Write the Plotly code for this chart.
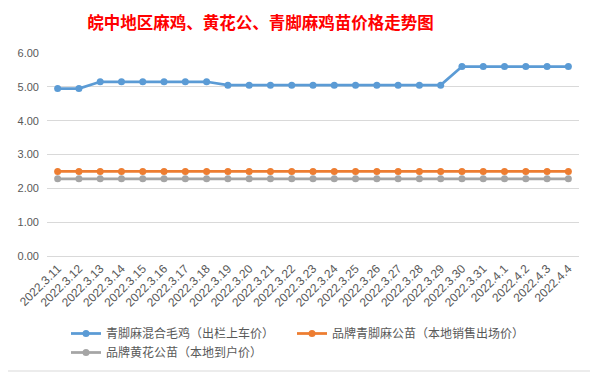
import plotly.graph_objects as go

categories = ["2022.3.11", "2022.3.12", "2022.3.13", "2022.3.14", "2022.3.15", "2022.3.16",
              "2022.3.17", "2022.3.18", "2022.3.19", "2022.3.20", "2022.3.21", "2022.3.22",
              "2022.3.23", "2022.3.24", "2022.3.25", "2022.3.26", "2022.3.27", "2022.3.28",
              "2022.3.29", "2022.3.30", "2022.3.31", "2022.4.1", "2022.4.2", "2022.4.3", "2022.4.4"]

blue_name = "青脚麻混合毛鸡（出栏上车价）"
blue_values = [4.95, 4.95, 5.15, 5.15, 5.15, 5.15, 5.15, 5.15, 5.05, 5.05, 5.05, 5.05, 5.05,
               5.05, 5.05, 5.05, 5.05, 5.05, 5.05, 5.60, 5.60, 5.60, 5.60, 5.60, 5.60]

orange_name = "品牌青脚麻公苗（本地销售出场价）"
orange_values = [2.50] * 25

gray_name = "品牌黄花公苗（本地到户价）"
gray_values = [2.28] * 25

y_ticks = [0, 1, 2, 3, 4, 5, 6]

# page offset of the plot div (default body margin)
OFF = 8
W, H = 598, 374
# desired plot area in page pixels
PL, PR, PT, PB = 47, 579, 53, 256
ML, MT = PL - OFF, PT - OFF
MR = W - (PR - OFF)
MB = H - (PB - OFF)
PW, PH = W - ML - MR, H - MT - MB


def px_x(p):
    return (p - OFF - ML) / PW


def px_y(p):
    return (H - MB - (p - OFF)) / PH


fig = go.Figure()
for name, vals, col in [(blue_name, blue_values, "#5B9BD5"),
                        (orange_name, orange_values, "#ED7D31"),
                        (gray_name, gray_values, "#A5A5A5")]:
    fig.add_trace(go.Scatter(
        x=categories, y=vals, name=name, mode="lines+markers",
        line=dict(color=col, width=2.75),
        marker=dict(color=col, size=7, symbol="circle"),
        cliponaxis=False,
    ))

fig.add_shape(type="rect", xref="paper", yref="paper",
              x0=px_x(3), x1=px_x(594), y0=px_y(371), y1=px_y(2),
              line=dict(color="#D9D9D9", width=1), fillcolor="rgba(0,0,0,0)", layer="below")

fig.update_layout(
    width=W, height=H,
    margin=dict(l=ML, r=MR, t=MT, b=MB, autoexpand=False),
    paper_bgcolor="white", plot_bgcolor="white",
    title=dict(text="<b>皖中地区麻鸡、黄花公、青脚麻鸡苗价格走势图</b>",
               font=dict(family="Noto Sans CJK SC", size=16.5, color="#FF0000"),
               xref="container", x=(260.5 - OFF) / W, xanchor="center",
               yref="container", y=1 - (23 - OFF) / H, yanchor="middle"),
    font=dict(family="Noto Sans CJK SC", color="#595959"),
    showlegend=True,
    legend=dict(orientation="h", x=px_x(66), xanchor="left", y=px_y(319), yanchor="top",
                entrywidth=181, entrywidthmode="pixels", tracegroupgap=0,
                font=dict(family="Noto Sans CJK SC", size=12, color="#595959"),
                itemwidth=30),
)
fig.update_xaxes(type="category", range=[-0.5, len(categories) - 0.5], tickangle=-45,
                 showgrid=False, showline=True,
                 linecolor="#D9D9D9", ticks="", automargin=False,
                 tickfont=dict(family="Liberation Sans", size=12, color="#595959"))
fig.update_yaxes(range=[0, 6], tickvals=y_ticks, tickformat=".2f", showgrid=True,
                 gridcolor="#D9D9D9", gridwidth=1, zeroline=False, showline=False,
                 ticks="", ticklabelstandoff=7, automargin=False,
                 tickfont=dict(family="Liberation Sans", size=11, color="#595959"))

fig.write_html("out.html")
